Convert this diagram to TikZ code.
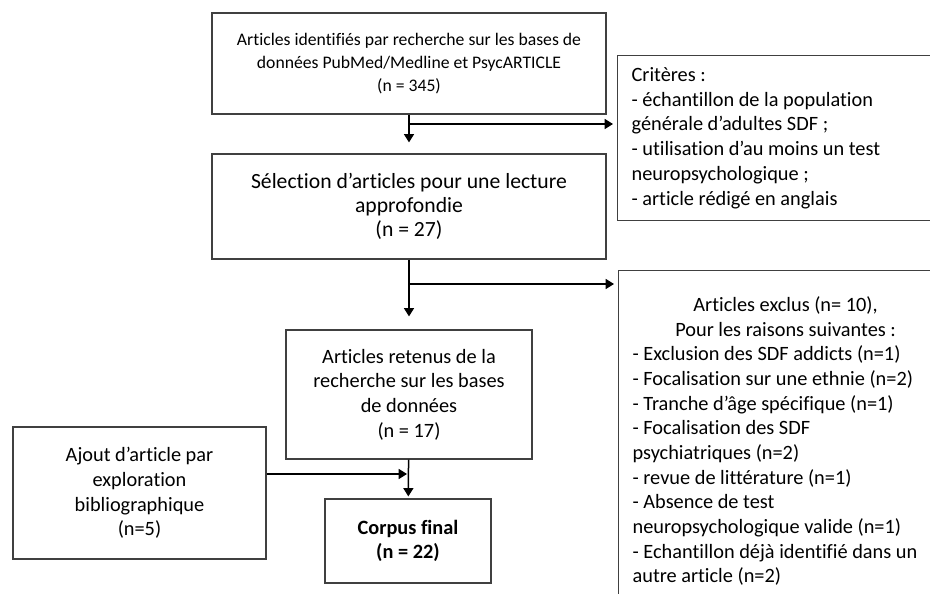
\documentclass[tikz,border=0pt]{standalone}
\usepackage{fontspec}
\setmainfont{Carlito}[Ligatures={TeX,NoCommon}]
\usetikzlibrary{arrows.meta}

\begin{document}
\begin{tikzpicture}[x=1pt,y=-1pt,
	boite/.style={draw=black!75,line width=0.7pt,inner sep=0pt,align=center,font=\fontsize{12.2}{14.8}\selectfont},
	liste/.style={boite,anchor=north west,minimum width=200.4pt,text width=183.6pt,inner xsep=8.4pt,align=flush left},
	fleche/.style={-{Triangle[length=5pt,width=6pt]},line width=0.9pt}]

	\useasboundingbox (0,0) rectangle (558,356.4);
	\clip (0,0) rectangle (558,356.4);
	\fill[white] (0,0) rectangle (558,356.4);

	\node[boite,minimum width=236.4pt,minimum height=60.6pt,font=\fontsize{10.6}{13.8}\selectfont] (ident) at (245.4,38.1) {Articles identifiés par recherche sur les bases de\\données PubMed/Medline et PsycARTICLE\\(n = 345)};
	\node[liste,minimum height=99pt] (crit) at (370.2,33) {Critères :\\- échantillon de la population\\générale d’adultes SDF ;\\- utilisation d’au moins un test\\neuropsychologique ;\\- article rédigé en anglais};
	\node[boite,minimum width=236.4pt,minimum height=63pt,font=\fontsize{13}{14.4}\selectfont] (select) at (245.4,123.9) {Sélection d’articles pour une lecture\\approfondie\\(n = 27)};
	\node[liste,minimum height=204.6pt] (exclus) at (370.8,162) {{\centering Articles exclus (n= 10),\\Pour les raisons suivantes :\par}- Exclusion des SDF addicts (n=1)\\- Focalisation sur une ethnie (n=2)\\- Tranche d’âge spécifique (n=1)\\- Focalisation des SDF\\psychiatriques (n=2)\\- revue de littérature (n=1)\\- Absence de test\\neuropsychologique valide (n=1)\\- Echantillon déjà identifié dans un\\autre article (n=2)};
	\node[boite,minimum width=147.6pt,minimum height=77.4pt] (retenus) at (245.4,236.7) {Articles retenus de la\\recherche sur les bases\\de données\\(n = 17)};
	\node[boite,minimum width=151.8pt,minimum height=79.2pt] (ajout) at (83.7,295.8) {Ajout d’article par\\exploration\\bibliographique\\(n=5)};
	\node[boite,minimum width=99.6pt,minimum height=50.4pt,font=\fontsize{12.2}{14.8}\selectfont\bfseries] (corpus) at (244.8,324.6) {Corpus final\\(n = 22)};

	\coordinate (c1) at (245.4,74.4);
	\coordinate (c2) at (245.4,170.4);
	\coordinate (c3) at (244.2,284.4);

	\draw[fleche,shorten >=6.6pt] (ident) -- (select);
	\draw[fleche,shorten >=2.4pt] (c1) -- (c1 -| crit.west);
	\draw[fleche,shorten >=7.8pt] (select) -- (retenus);
	\draw[fleche,shorten >=2.4pt] (c2) -- (c2 -| exclus.west);
	\draw[fleche,shorten >=1.2pt] (retenus) -- (corpus);
	\draw[fleche] (ajout.east |- c3) -- (c3);

\end{tikzpicture}
\end{document}
